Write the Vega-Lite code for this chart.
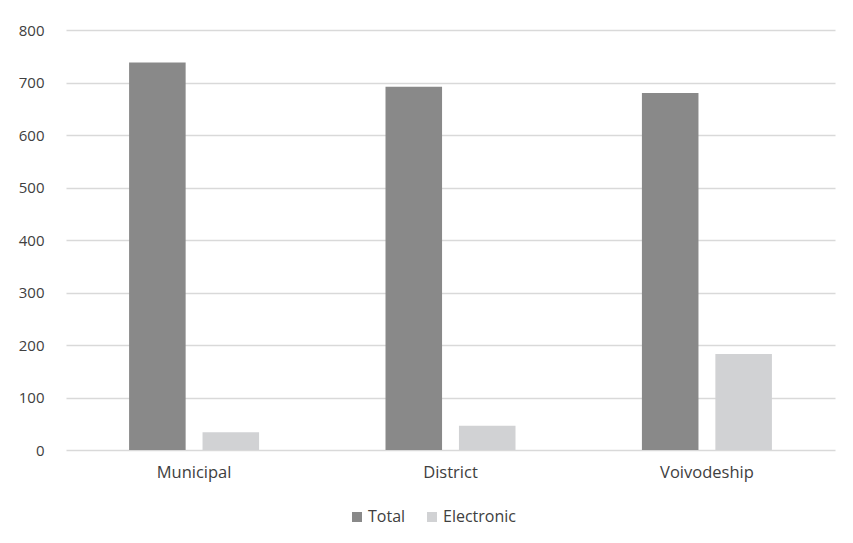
{
  "$schema": "https://vega.github.io/schema/vega-lite/v6.json",
  "autosize": {"type": "none"},
  "padding": {"left": 66, "top": 30, "right": 18, "bottom": 93},
  "width": 769,
  "height": 420,
  "background": "white",
  "data": {
    "values": [
      {"level": "Municipal", "type": "Total", "count": 738},
      {"level": "Municipal", "type": "Electronic", "count": 34},
      {"level": "District", "type": "Total", "count": 692},
      {"level": "District", "type": "Electronic", "count": 46},
      {"level": "Voivodeship", "type": "Total", "count": 680},
      {"level": "Voivodeship", "type": "Electronic", "count": 183}
    ]
  },
  "mark": {"type": "bar"},
  "encoding": {
    "x": {
      "field": "level",
      "type": "nominal",
      "sort": ["Municipal", "District", "Voivodeship"],
      "scale": {"paddingInner": 0.493, "paddingOuter": 0.246},
      "axis": {
        "title": null,
        "labelAngle": 0,
        "ticks": false,
        "domain": false,
        "labelPadding": 14,
        "labelFontSize": 16.5,
        "labelColor": "#404040",
        "labelFont": "Open Sans"
      }
    },
    "xOffset": {
      "field": "type",
      "type": "nominal",
      "sort": ["Total", "Electronic"],
      "scale": {"paddingInner": 0.23, "paddingOuter": 0}
    },
    "y": {
      "field": "count",
      "type": "quantitative",
      "scale": {"domain": [0, 800]},
      "axis": {
        "title": null,
        "values": [0, 100, 200, 300, 400, 500, 600, 700, 800],
        "ticks": false,
        "domain": false,
        "labelPadding": 22,
        "labelFontSize": 15,
        "labelColor": "#404040",
        "labelFont": "Open Sans",
        "gridColor": "#d9d9d9",
        "gridWidth": 1.5
      }
    },
    "color": {
      "field": "type",
      "type": "nominal",
      "sort": ["Total", "Electronic"],
      "scale": {"domain": ["Total", "Electronic"], "range": ["#898989", "#d1d2d4"]},
      "legend": {
        "title": null,
        "orient": "none",
        "legendX": 283,
        "legendY": 479,
        "direction": "horizontal",
        "symbolType": "square",
        "symbolSize": 100,
        "symbolStrokeWidth": 0,
        "labelOffset": 3,
        "labelFontSize": 16,
        "labelColor": "#404040",
        "labelFont": "Open Sans",
        "columnPadding": 18
      }
    }
  },
  "config": {
    "view": {"stroke": null}
  }
}
